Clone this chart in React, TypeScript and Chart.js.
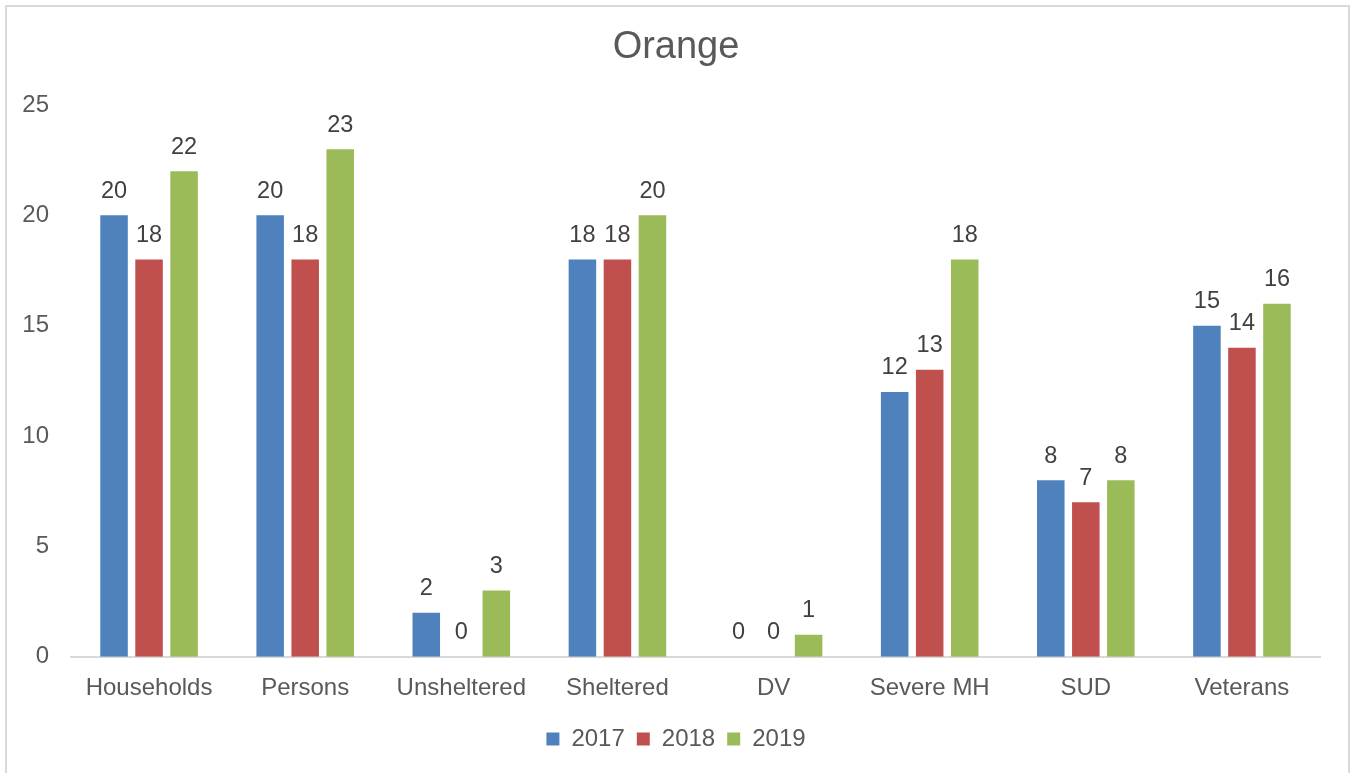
import React, { useEffect, useRef } from "react";
import { Chart, registerables } from "chart.js";

Chart.register(...registerables);

const categories = ["Households", "Persons", "Unsheltered", "Sheltered", "DV", "Severe MH", "SUD", "Veterans"];
const seriesNames = ["2017", "2018", "2019"];
const values2017 = [20, 20, 2, 18, 0, 12, 8, 15];
const values2018 = [18, 18, 0, 18, 0, 13, 7, 14];
const values2019 = [22, 23, 3, 20, 1, 18, 8, 16];
const yTicks = [0, 5, 10, 15, 20, 25];

const colors = ["#4F81BD", "#C0504D", "#9BBB59"];
const FONT = "'Liberation Sans', Arial, sans-serif";

const dataLabelPlugin = {
  id: "dataLabels",
  afterDatasetsDraw(chart: any) {
    const ctx = chart.ctx;
    ctx.save();
    ctx.font = `23.5px ${FONT}`;
    ctx.fillStyle = "#404040";
    ctx.textAlign = "center";
    ctx.textBaseline = "middle";
    chart.data.datasets.forEach((ds: any, i: number) => {
      const meta = chart.getDatasetMeta(i);
      meta.data.forEach((el: any, j: number) => {
        ctx.fillText(String(ds.data[j]), el.x, el.y - 24);
      });
    });
    ctx.restore();
  },
};

export default function App() {
  const canvasRef = useRef<HTMLCanvasElement | null>(null);

  useEffect(() => {
    if (!canvasRef.current) return;
    const chart = new Chart(canvasRef.current, {
      type: "bar",
      data: {
        labels: categories,
        datasets: [values2017, values2018, values2019].map((d, i) => ({
          label: seriesNames[i],
          data: d,
          backgroundColor: colors[i],
          categoryPercentage: 0.673,
          barPercentage: 0.786,
        })),
      },
      options: {
        animation: false,
        responsive: true,
        maintainAspectRatio: false,
        layout: { padding: { left: 0, right: 0, top: 0, bottom: 12 } },
        plugins: {
          title: {
            display: true,
            text: "Orange",
            color: "#595959",
            font: { family: FONT, size: 38, weight: "normal" },
            padding: { top: 25.2, bottom: 34.2 },
          },
          legend: {
            position: "bottom",
            labels: {
              color: "#595959",
              font: { family: FONT, size: 24 },
              boxWidth: 13,
              boxHeight: 13,
              padding: 12,
            },
          },
          tooltip: { enabled: false },
        },
        scales: {
          x: {
            grid: { display: false, drawTicks: false },
            border: { display: true, color: "#d9d9d9", width: 2 },
            ticks: { color: "#595959", font: { family: FONT, size: 24 }, padding: 17 },
            afterFit: (scale: any) => {
              scale.height = 58.2;
            },
          },
          y: {
            min: 0,
            max: 25,
            grid: { display: false, drawTicks: false },
            border: { display: false },
            afterBuildTicks: (scale: any) => {
              scale.ticks = yTicks.map((v) => ({ value: v }));
            },
            ticks: { color: "#595959", font: { family: FONT, size: 24 }, padding: 22 },
            afterFit: (scale: any) => {
              scale.width = 71;
            },
          },
          yRight: {
            type: "linear",
            position: "right",
            display: true,
            grid: { display: false, drawTicks: false },
            border: { display: false },
            ticks: { display: false },
            afterFit: (scale: any) => {
              scale.width = 32;
            },
          },
        },
      },
      plugins: [dataLabelPlugin],
    } as any);
    return () => chart.destroy();
  }, []);

  return (
    <div
      style={{
        position: "fixed",
        left: 0,
        top: 0,
        width: 1352,
        height: 773,
        overflow: "hidden",
        background: "#ffffff",
      }}
    >
      <div
        style={{
          position: "absolute",
          left: 5,
          top: 5,
          width: 1341,
          height: 800,
          border: "2px solid #d9d9d9",
          boxSizing: "content-box",
        }}
      />
      <div style={{ position: "absolute", left: 0, top: 0, width: 1352, height: 773 }}>
        <canvas ref={canvasRef} />
      </div>
    </div>
  );
}
